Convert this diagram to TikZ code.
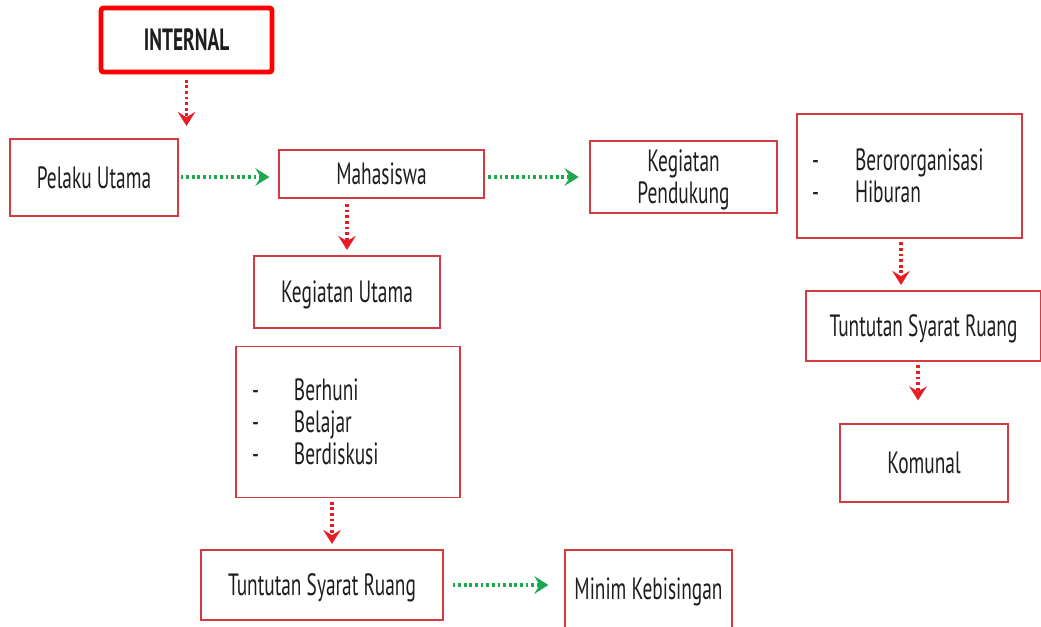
\documentclass[tikz,border=0pt]{standalone}
\usepackage{fontspec}
\setmainfont{PT Sans}[FakeStretch=0.63]
\usetikzlibrary{arrows.meta}
\definecolor{boxred}{RGB}{214,58,62}
\definecolor{arrred}{RGB}{232,28,36}
\definecolor{arrgreen}{RGB}{28,168,78}
\definecolor{txt}{RGB}{30,30,30}

\begin{document}
\begin{tikzpicture}[x=0.02cm, y=-0.02cm,
    every node/.style={font=\fontsize{17.5}{18.1}\selectfont, text=txt},
    listbox/.style={draw=boxred, line width=0.9pt, fill=white, align=left, inner sep=0pt},
    box/.style={listbox, align=center, text depth=0pt},
    redflow/.style={draw=arrred, line width=1.8pt, dash pattern=on 1.6pt off 1.6pt,
      -{Stealth[length=8pt,width=10pt,inset=3pt]}},
    greenflow/.style={redflow, draw=arrgreen}]
  \useasboundingbox (0,0) rectangle (1041,626);
  % Internal title box
  \node[box, draw=red, line width=2.8pt, rounded corners=1.5pt, minimum width=3.42cm, minimum height=1.28cm,
    font=\fontsize{17.5}{18}\selectfont\bfseries] (internal) at (186.5,40) {INTERNAL};
  % Left column
  \node[box, minimum width=3.36cm, minimum height=1.54cm] (pelaku) at (94,177.5) {Pelaku Utama};
  \node[box, minimum width=4.1cm, minimum height=0.96cm] (mhs) at (381.5,174) {Mahasiswa};
  \node[box, minimum width=3.72cm, minimum height=1.44cm] (kutama) at (347,292) {Kegiatan Utama};
  \node[listbox, minimum width=4.48cm, minimum height=3.02cm, text width=3.84cm] (utamalist) at (348,422)
    {\makebox[0.84cm][l]{-}Berhuni\\ \makebox[0.84cm][l]{-}Belajar\\ \makebox[0.84cm][l]{-}Berdiskusi};
  \node[box, minimum width=4.84cm, minimum height=1.4cm] (tsrkiri) at (322,585) {Tuntutan Syarat Ruang};
  \node[box, minimum width=3.34cm, minimum height=1.56cm] (minim) at (648.5,589) {Minim Kebisingan};
  % Right column
  \node[box, minimum width=3.74cm, minimum height=1.44cm] (kpend) at (683.5,177) {Kegiatan\\Pendukung};
  \node[listbox, minimum width=4.5cm, minimum height=2.48cm, text width=3.9cm] (pendlist) at (909.5,176)
    {\makebox[0.86cm][l]{-}Berororganisasi\\ \makebox[0.86cm][l]{-}Hiburan};
  \node[box, minimum width=4.7cm, minimum height=1.4cm] (tsrkanan) at (923.5,326) {Tuntutan Syarat Ruang};
  \node[box, minimum width=3.36cm, minimum height=1.56cm] (komunal) at (924,463) {Komunal};
  % Flow arrows
  \draw[redflow, shorten <=3pt, shorten >=7pt] (internal.south) -- (internal.south |- pelaku.north);
  \draw[greenflow, shorten <=1pt, shorten >=5pt] (pelaku.east |- 0,177) -- (mhs.west |- 0,177);
  \draw[greenflow, shorten <=2pt, shorten >=6pt] (mhs.east |- kpend.west) -- (kpend.west);
  \draw[redflow, shorten <=3pt, shorten >=3pt] (kutama.north |- mhs.south) -- (kutama.north);
  \draw[redflow, shorten <=2pt, shorten >=3pt] ([xshift=-0.32cm]utamalist.south) -- ([xshift=-0.32cm]utamalist.south |- tsrkiri.north);
  \draw[greenflow, shorten <=5pt, shorten >=9pt] (tsrkiri.east) -- (tsrkiri.east -| minim.west);
  \draw[redflow, shorten <=2pt, shorten >=3pt] ([xshift=-0.17cm]pendlist.south) -- ([xshift=-0.17cm]pendlist.south |- tsrkanan.north);
  \draw[redflow, shorten <=2pt, shorten >=13pt] ([xshift=-0.11cm]tsrkanan.south) -- ([xshift=-0.11cm]tsrkanan.south |- komunal.north);
\end{tikzpicture}
\end{document}
